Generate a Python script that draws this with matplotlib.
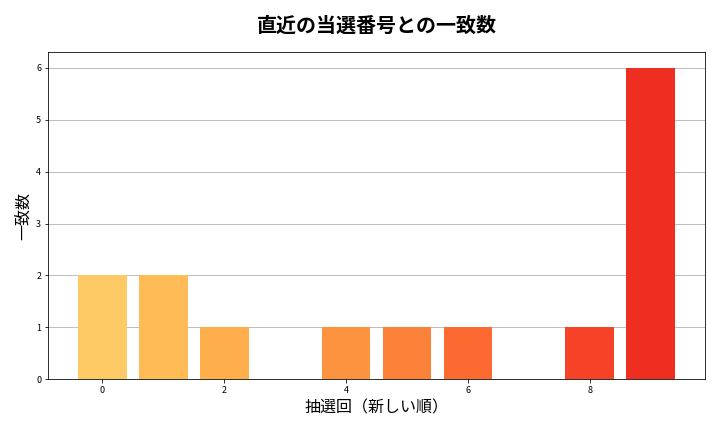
import matplotlib
matplotlib.use("Agg")
import matplotlib.pyplot as plt
import numpy as np

plt.rcParams['font.family'] = ['Noto Sans CJK JP', 'DejaVu Sans']

draws = list(range(10))
matches = [2, 2, 1, 0, 1, 1, 1, 0, 1, 6]
title = "直近の当選番号との一致数"
xlabel = "抽選回（新しい順）"
ylabel = "一致数"

fig, ax = plt.subplots(figsize=(10, 6), dpi=72)
fig.subplots_adjust(left=0.067, right=0.979, top=0.879, bottom=0.122)
colors = plt.cm.YlOrRd(np.linspace(0.3, 0.7, len(draws)))
ax.bar(draws, matches, color=colors, width=0.8, zorder=2)
ax.set_title(title, fontsize=20, fontweight='bold', pad=20)
ax.set_xlabel(xlabel, fontsize=16)
ax.set_ylabel(ylabel, fontsize=16)
ax.tick_params(labelsize=9)
ax.yaxis.grid(True, color='#b0b0b0', linewidth=0.8, zorder=0)
ax.set_axisbelow(True)
ax.set_xticks([0, 2, 4, 6, 8])
fig.savefig("out.png", dpi=72)
